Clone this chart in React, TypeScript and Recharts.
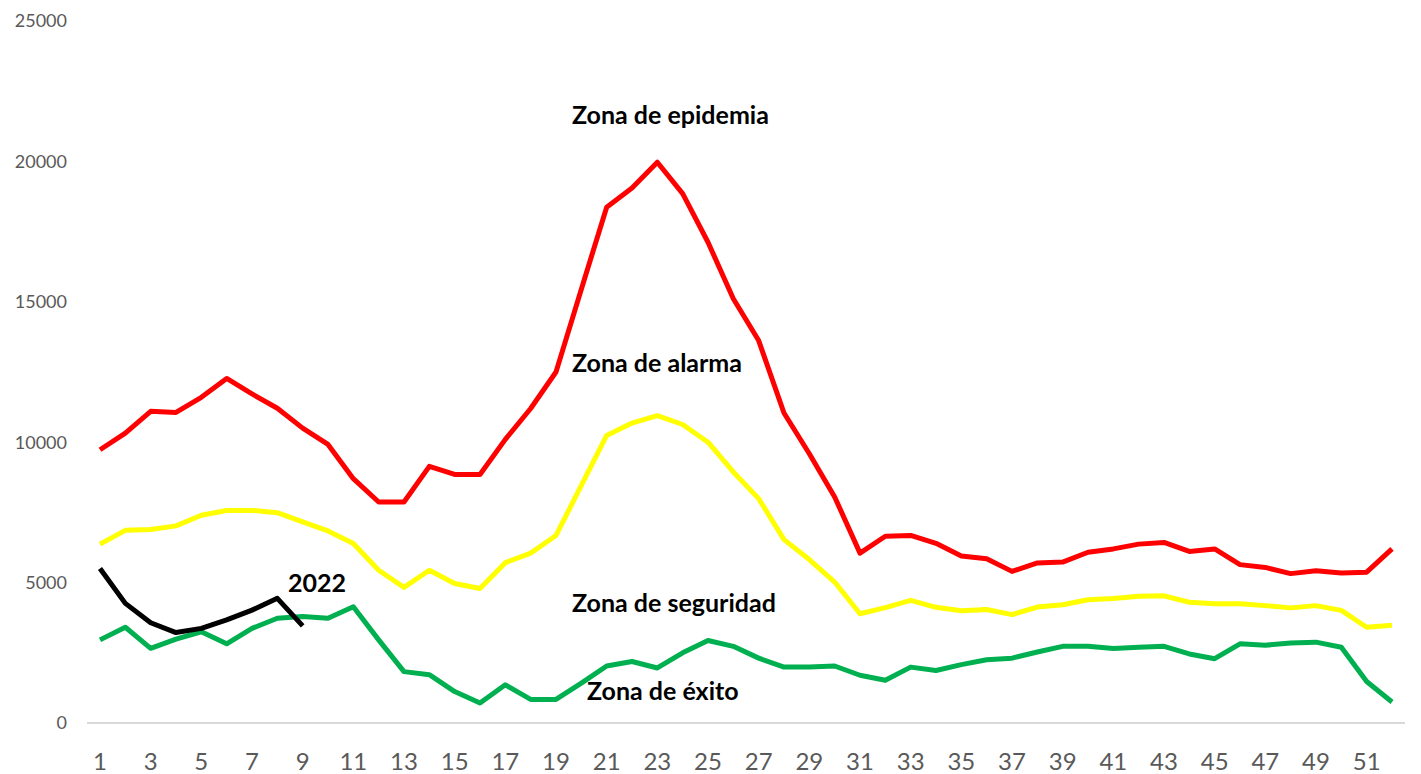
import React from "react";
import { LineChart, Line, XAxis, YAxis } from "recharts";

// Epidemic channel by epidemiological week
const weeks = [
  "1", "2", "3", "4", "5", "6", "7", "8", "9", "10", "11", "12", "13",
  "14", "15", "16", "17", "18", "19", "20", "21", "22", "23", "24", "25", "26",
  "27", "28", "29", "30", "31", "32", "33", "34", "35", "36", "37", "38", "39",
  "40", "41", "42", "43", "44", "45", "46", "47", "48", "49", "50", "51", "52",
];

const epidemia = [
  9730, 10320, 11100, 11060, 11600, 12270, 11720, 11210, 10500, 9920, 8700, 7870, 7870,
  9140, 8850, 8850, 10100, 11200, 12500, 15450, 18370, 19050, 19970, 18850, 17120, 15110,
  13620, 11040, 9590, 8050, 6050, 6650, 6680, 6400, 5950, 5850, 5400, 5700, 5730,
  6080, 6200, 6370, 6430, 6110, 6200, 5640, 5540, 5320, 5420, 5340, 5370, 6200,
];

const alarma = [
  6370, 6860, 6890, 7020, 7400, 7570, 7570, 7490, 7160, 6840, 6390, 5440, 4830,
  5440, 4970, 4790, 5710, 6050, 6680, 8460, 10240, 10680, 10950, 10630, 10000, 8940,
  7990, 6530, 5820, 5020, 3890, 4110, 4370, 4120, 4000, 4040, 3860, 4130, 4210,
  4390, 4430, 4510, 4530, 4300, 4250, 4250, 4180, 4100, 4180, 4010, 3410, 3480,
];

const seguridad = [
  2960, 3410, 2660, 2990, 3250, 2820, 3370, 3730, 3790, 3730, 4140, 2960, 1830,
  1720, 1120, 710, 1360, 840, 840, 1420, 2030, 2190, 1960, 2500, 2940, 2730,
  2310, 1990, 1990, 2030, 1700, 1520, 1990, 1870, 2080, 2250, 2310, 2530, 2730,
  2730, 2650, 2700, 2730, 2460, 2290, 2820, 2770, 2850, 2880, 2700, 1480, 750,
];

// only the first weeks of 2022 are reported
const year2022 = [5500, 4260, 3570, 3220, 3370, 3670, 4020, 4440, 3460];

const yTicks = [0, 5000, 10000, 15000, 20000, 25000];

const data = weeks.map((week, i) => ({
  week,
  epidemia: epidemia[i],
  alarma: alarma[i],
  seguridad: seguridad[i],
  y2022: i < year2022.length ? year2022[i] : null,
}));

const labels = [
  { text: "Zona de epidemia", x: 572, y: 124 },
  { text: "Zona de alarma", x: 572, y: 372 },
  { text: "Zona de seguridad", x: 572, y: 612 },
  { text: "Zona de éxito", x: 587, y: 700 },
  { text: "2022", x: 288, y: 592 },
];

const tickStyle = { fill: "#595959", fontFamily: "Lato" };

export default function App() {
  return (
    <div
      style={{
        position: "fixed",
        left: 0,
        top: 0,
        width: 1421,
        height: 774,
        background: "#fff",
      }}
    >
      <LineChart
        width={1421}
        height={774}
        data={data}
        margin={{ top: 21, right: 16, left: 0, bottom: 0 }}
      >
        <XAxis
          dataKey="week"
          interval={1}
          height={51}
          padding={{ left: 13, right: 13 }}
          tickLine={false}
          tickSize={0}
          tickMargin={30}
          axisLine={{ stroke: "#d9d9d9", strokeWidth: 2 }}
          tick={{ ...tickStyle, fontSize: 24 }}
        />
        <YAxis
          domain={[0, 25000]}
          ticks={yTicks}
          width={87}
          axisLine={false}
          tickLine={false}
          tickSize={0}
          tickMargin={20}
          tick={{ ...tickStyle, fontSize: 18 }}
        />
        <Line
          dataKey="epidemia"
          stroke="#ff0000"
          strokeWidth={5}
          dot={false}
          type="linear"
          strokeLinejoin="round"
          isAnimationActive={false}
        />
        <Line
          dataKey="alarma"
          stroke="#ffff00"
          strokeWidth={5}
          dot={false}
          type="linear"
          strokeLinejoin="round"
          isAnimationActive={false}
        />
        <Line
          dataKey="seguridad"
          stroke="#00b050"
          strokeWidth={5}
          dot={false}
          type="linear"
          strokeLinejoin="round"
          isAnimationActive={false}
        />
        <Line
          dataKey="y2022"
          stroke="#000000"
          strokeWidth={5}
          dot={false}
          type="linear"
          strokeLinejoin="round"
          isAnimationActive={false}
        />
      </LineChart>
      <svg
        width={1421}
        height={774}
        style={{ position: "absolute", left: 0, top: 0, pointerEvents: "none" }}
      >
        {labels.map((l) => (
          <text
            key={l.text}
            x={l.x}
            y={l.y}
            fontFamily="Lato"
            fontWeight="bold"
            fontSize={25}
            fill="#000"
          >
            {l.text}
          </text>
        ))}
      </svg>
    </div>
  );
}
